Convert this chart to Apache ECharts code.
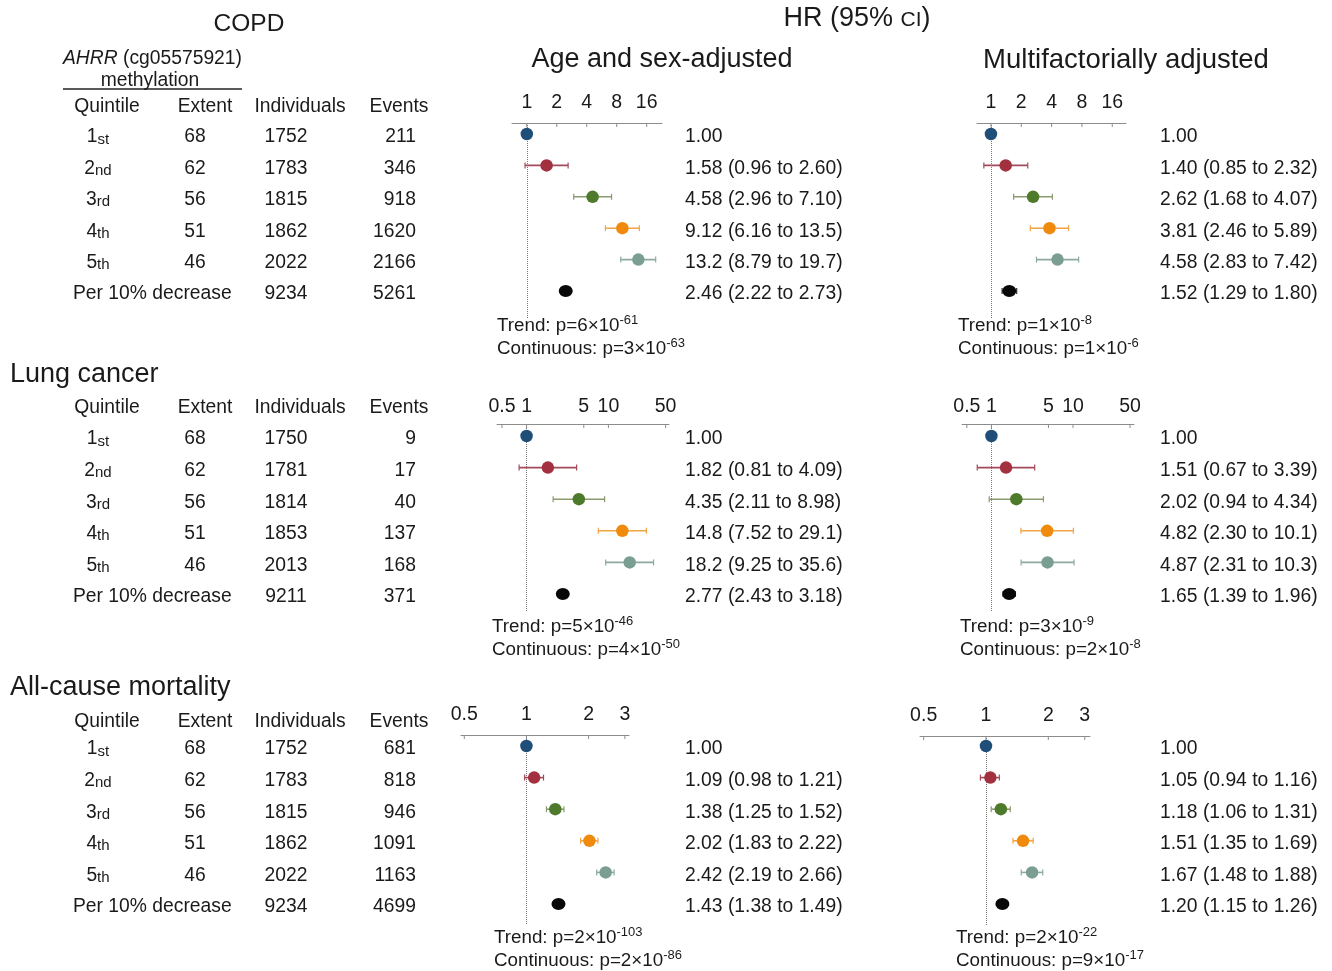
<!DOCTYPE html>
<html><head><meta charset="utf-8">
<script src="https://cdn.jsdelivr.net/npm/echarts@6/dist/echarts.min.js"></script>
<style>html,body{margin:0;padding:0;background:#fff;} #c{width:1332px;height:971px;}</style>
</head><body><div id="c"></div>
<script>
// ---------------- DATA ----------------
const quintiles = [['1','st'],['2','nd'],['3','rd'],['4','th'],['5','th']];
const trendRowLabel = 'Per 10% decrease';
const extentValues = [68, 62, 56, 51, 46];
const tableHeaders = ['Quintile', 'Extent', 'Individuals', 'Events'];

const copdIndividuals = [1752, 1783, 1815, 1862, 2022, 9234];
const copdEvents      = [211, 346, 918, 1620, 2166, 5261];
const lungIndividuals = [1750, 1781, 1814, 1853, 2013, 9211];
const lungEvents      = [9, 17, 40, 137, 168, 371];
const mortIndividuals = [1752, 1783, 1815, 1862, 2022, 9234];
const mortEvents      = [681, 818, 946, 1091, 1163, 4699];

const copdAgeHR   = [1.00, 1.58, 4.58, 9.12, 13.2, 2.46];
const copdAgeLo   = [null, 0.96, 2.96, 6.16, 8.79, 2.22];
const copdAgeHi   = [null, 2.60, 7.10, 13.5, 19.7, 2.73];
const copdMultiHR = [1.00, 1.40, 2.62, 3.81, 4.58, 1.52];
const copdMultiLo = [null, 0.85, 1.68, 2.46, 2.83, 1.29];
const copdMultiHi = [null, 2.32, 4.07, 5.89, 7.42, 1.80];

const lungAgeHR   = [1.00, 1.82, 4.35, 14.8, 18.2, 2.77];
const lungAgeLo   = [null, 0.81, 2.11, 7.52, 9.25, 2.43];
const lungAgeHi   = [null, 4.09, 8.98, 29.1, 35.6, 3.18];
const lungMultiHR = [1.00, 1.51, 2.02, 4.82, 4.87, 1.65];
const lungMultiLo = [null, 0.67, 0.94, 2.30, 2.31, 1.39];
const lungMultiHi = [null, 3.39, 4.34, 10.1, 10.3, 1.96];

const mortAgeHR   = [1.00, 1.09, 1.38, 2.02, 2.42, 1.43];
const mortAgeLo   = [null, 0.98, 1.25, 1.83, 2.19, 1.38];
const mortAgeHi   = [null, 1.21, 1.52, 2.22, 2.66, 1.49];
const mortMultiHR = [1.00, 1.05, 1.18, 1.51, 1.67, 1.20];
const mortMultiLo = [null, 0.94, 1.06, 1.35, 1.48, 1.15];
const mortMultiHi = [null, 1.16, 1.31, 1.69, 1.88, 1.26];

const copdTicks = [1, 2, 4, 8, 16];
const lungTicks = [0.5, 1, 5, 10, 50];
const mortTicks = [0.5, 1, 2, 3];

const copdAgeP   = { trend: ['6', '-61'],  cont: ['3', '-63'] };
const copdMultiP = { trend: ['1', '-8'],   cont: ['1', '-6'] };
const lungAgeP   = { trend: ['5', '-46'],  cont: ['4', '-50'] };
const lungMultiP = { trend: ['3', '-9'],   cont: ['2', '-8'] };
const mortAgeP   = { trend: ['2', '-103'], cont: ['2', '-86'] };
const mortMultiP = { trend: ['2', '-22'],  cont: ['9', '-17'] };

// ---------------- STYLE / LAYOUT ----------------
const F = "'Liberation Sans', Arial, Helvetica, sans-serif";
const TXT = '#1a1a1a';
const DY = 2; // text baseline nudge
const pointColors = ['#1F4E79', '#A3303F', '#4E7A2B', '#F08A0C', '#7A9E91', '#080808'];
const barColors   = ['#1F4E79', '#A24A5A', '#8A9B6E', '#F2A446', '#8DA9A2', '#333333'];

const panels = [
  { hr: copdAgeHR, lo: copdAgeLo, hi: copdAgeHi, ticks: copdTicks, p: copdAgeP,
    grid: {left: 512, top: 123, width: 150, height: 195}, xmin: 0.71, xmax: 22.8,
    rowY0: 134, step: 31.4, labelX: 685, pX: 497, pY: 324, tickOff: 22 },
  { hr: copdMultiHR, lo: copdMultiLo, hi: copdMultiHi, ticks: copdTicks, p: copdMultiP,
    grid: {left: 977, top: 123, width: 149, height: 195}, xmin: 0.727, xmax: 21.9,
    rowY0: 134, step: 31.4, labelX: 1160, pX: 958, pY: 324, tickOff: 22 },
  { hr: lungAgeHR, lo: lungAgeLo, hi: lungAgeHi, ticks: lungTicks, p: lungAgeP,
    grid: {left: 497, top: 424, width: 172, height: 188}, xmin: 0.435, xmax: 55,
    rowY0: 436, step: 31.6, labelX: 685, pX: 492, pY: 625, tickOff: 19 },
  { hr: lungMultiHR, lo: lungMultiLo, hi: lungMultiHi, ticks: lungTicks, p: lungMultiP,
    grid: {left: 962, top: 424, width: 172, height: 188}, xmin: 0.436, xmax: 55.9,
    rowY0: 436, step: 31.6, labelX: 1160, pX: 960, pY: 625, tickOff: 19 },
  { hr: mortAgeHR, lo: mortAgeLo, hi: mortAgeHi, ticks: mortTicks, p: mortAgeP,
    grid: {left: 461, top: 735, width: 168, height: 190}, xmin: 0.482, xmax: 3.14,
    rowY0: 746, step: 31.6, labelX: 685, pX: 494, pY: 936, tickOff: 22 },
  { hr: mortMultiHR, lo: mortMultiLo, hi: mortMultiHi, ticks: mortTicks, p: mortMultiP,
    grid: {left: 920, top: 736, width: 170, height: 189}, xmin: 0.48, xmax: 3.18,
    rowY0: 746, step: 31.6, labelX: 1160, pX: 956, pY: 936, tickOff: 22 }
];

const sections = [
  { title: null, headerY: 105, rowY0: 135, step: 31.4, indiv: copdIndividuals, events: copdEvents },
  { title: 'Lung cancer', titleY: 373, headerY: 406, rowY0: 437, step: 31.6, indiv: lungIndividuals, events: lungEvents },
  { title: 'All-cause mortality', titleY: 686, headerY: 720, rowY0: 747, step: 31.6, indiv: mortIndividuals, events: mortEvents }
];

function fmtNum(v) { return v < 1 ? v.toFixed(2) : v.toPrecision(3); }
function hrLabel(hr, lo, hi) { return lo == null ? fmtNum(hr) : fmtNum(hr) + ' (' + fmtNum(lo) + ' to ' + fmtNum(hi) + ')'; }

function txt(x, y, text, opts) {
  opts = opts || {};
  return { type: 'text', x: x, y: y + DY, silent: true, z: 10,
    style: Object.assign({ text: text, fontSize: 19.3, fontFamily: F, fill: TXT,
      align: opts.align || 'left', verticalAlign: 'middle' }, opts.style || {}) };
}
function supText(x, y, base, mant, exp) {
  return { type: 'text', x: x, y: y + DY, silent: true, z: 10,
    style: { text: '{n|' + base + mant + '×10}{s|' + exp + '}', align: 'left', verticalAlign: 'middle',
      rich: { n: { fontSize: 18.8, fontFamily: F, fill: TXT, lineHeight: 24 },
              s: { fontSize: 13, fontFamily: F, fill: TXT, lineHeight: 12, verticalAlign: 'top' } } } };
}

// ---------------- BUILD ----------------
const grids = [], xAxes = [], yAxes = [], series = [], graphics = [];

panels.forEach((pn, gi) => {
  const yMin = (pn.grid.top - pn.rowY0) / pn.step;
  const yMax = (pn.grid.top + pn.grid.height - pn.rowY0) / pn.step;
  grids.push(Object.assign({ containLabel: false, outerBoundsMode: 'none' }, pn.grid));
  xAxes.push({ gridIndex: gi, type: 'log', logBase: 10, min: pn.xmin, max: pn.xmax, position: 'top',
    axisLine: { show: true, onZero: false, lineStyle: { color: '#8c8c8c', width: 1 } },
    axisTick: { show: false }, axisLabel: { show: false }, splitLine: { show: false } });
  yAxes.push({ gridIndex: gi, type: 'value', inverse: true, min: yMin, max: yMax, show: false,
    splitLine: { show: false } });

  // tick marks + labels
  series.push({ type: 'custom', xAxisIndex: gi, yAxisIndex: gi, clip: false, silent: true, z: 2,
    data: pn.ticks.map(v => [v, yMin]),
    encode: { x: 0, y: 1 },
    renderItem: (params, api) => {
      const v = api.value(0);
      const p = api.coord([v, api.value(1)]);
      return { type: 'group', children: [
        { type: 'line', shape: { x1: p[0], y1: p[1], x2: p[0], y2: p[1] + 4 }, style: { stroke: '#8c8c8c', lineWidth: 1 } },
        { type: 'text', x: p[0], y: p[1] - pn.tickOff + DY,
          style: { text: String(v), align: 'center', verticalAlign: 'middle', fontSize: 19.5, fontFamily: F, fill: TXT } }
      ] };
    }
  });

  // error bars
  const barData = [];
  pn.hr.forEach((h, i) => { if (pn.lo[i] != null) barData.push([pn.lo[i], pn.hi[i], i, i]); });
  series.push({ type: 'custom', xAxisIndex: gi, yAxisIndex: gi, clip: false, silent: true, z: 3,
    data: barData, encode: { x: [0, 1], y: 2 },
    renderItem: (params, api) => {
      const r = api.value(2), ci = api.value(3);
      const a = api.coord([api.value(0), r]), b = api.coord([api.value(1), r]);
      const c = barColors[ci];
      return { type: 'group', children: [
        { type: 'line', shape: { x1: a[0], y1: a[1], x2: b[0], y2: b[1] }, style: { stroke: c, lineWidth: 1.6 } },
        { type: 'line', shape: { x1: a[0], y1: a[1] - 3, x2: a[0], y2: a[1] + 3 }, style: { stroke: c, lineWidth: 1.2 } },
        { type: 'line', shape: { x1: b[0], y1: b[1] - 3, x2: b[0], y2: b[1] + 3 }, style: { stroke: c, lineWidth: 1.2 } }
      ] };
    }
  });

  // points + reference line
  series.push({ type: 'scatter', xAxisIndex: gi, yAxisIndex: gi, z: 5, silent: true,
    data: pn.hr.map((h, i) => ({ value: [h, i], itemStyle: { color: pointColors[i], opacity: 1 },
      symbolSize: i === 5 ? [14, 12] : 12.5 })),
    markLine: { silent: true, symbol: ['none', 'none'], animation: false, z: 1,
      label: { show: false },
      lineStyle: { type: 'dotted', color: '#777', width: 1 },
      data: [{ xAxis: 1 }] }
  });

  // HR labels
  pn.hr.forEach((h, i) => {
    graphics.push(txt(pn.labelX, pn.rowY0 + 1 + i * pn.step, hrLabel(h, pn.lo[i], pn.hi[i])));
  });
  // p-values
  graphics.push(supText(pn.pX, pn.pY, 'Trend: p=', pn.p.trend[0], pn.p.trend[1]));
  graphics.push(supText(pn.pX, pn.pY + 23, 'Continuous: p=', pn.p.cont[0], pn.p.cont[1]));
});

// headings
graphics.push(txt(249, 22, 'COPD', { align: 'center', style: { fontSize: 24.5 } }));
graphics.push({ type: 'text', x: 857, y: 17 + DY, silent: true,
  style: { text: '{a|HR (95% }{b|CI}{a|)}', align: 'center', verticalAlign: 'middle',
    rich: { a: { fontSize: 27, fontFamily: F, fill: TXT, lineHeight: 28 },
            b: { fontSize: 21, fontFamily: F, fill: TXT, lineHeight: 20, verticalAlign: 'bottom', padding: [0, 0, 2, 0] } } } });
graphics.push(txt(662, 58, 'Age and sex-adjusted', { align: 'center', style: { fontSize: 27 } }));
graphics.push(txt(1126, 58, 'Multifactorially adjusted', { align: 'center', style: { fontSize: 27.5 } }));
graphics.push({ type: 'text', x: 63, y: 57 + DY, silent: true,
  style: { text: '{i|AHRR}{n| (cg05575921)}', align: 'left', verticalAlign: 'middle',
    rich: { i: { fontSize: 19.3, fontFamily: F, fontStyle: 'italic', fill: TXT },
            n: { fontSize: 19.3, fontFamily: F, fill: TXT } } } });
graphics.push(txt(150, 79, 'methylation', { align: 'center' }));
graphics.push({ type: 'line', silent: true, shape: { x1: 63, y1: 89, x2: 242, y2: 89 }, style: { stroke: '#222', lineWidth: 1.3 } });

// tables
sections.forEach(sec => {
  if (sec.title) graphics.push(txt(10, sec.titleY, sec.title, { style: { fontSize: 27 } }));
  const hx = [107, 205, 300, 399];
  tableHeaders.forEach((h, k) => graphics.push(txt(hx[k], sec.headerY, h, { align: 'center' })));
  quintiles.forEach((q, i) => {
    const y = sec.rowY0 + i * sec.step;
    graphics.push({ type: 'text', x: 98, y: y + DY, silent: true,
      style: { text: '{n|' + q[0] + '}{s|' + q[1] + '}', align: 'center', verticalAlign: 'middle',
        rich: { n: { fontSize: 19.3, fontFamily: F, fill: TXT, lineHeight: 20 },
                s: { fontSize: 15, fontFamily: F, fill: TXT, lineHeight: 19, verticalAlign: 'bottom' } } } });
    graphics.push(txt(195, y, String(extentValues[i]), { align: 'center' }));
  });
  graphics.push(txt(73, sec.rowY0 + 5 * sec.step, trendRowLabel));
  sec.indiv.forEach((v, i) => graphics.push(txt(286, sec.rowY0 + i * sec.step, String(v), { align: 'center' })));
  sec.events.forEach((v, i) => graphics.push(txt(416, sec.rowY0 + i * sec.step, String(v), { align: 'right' })));
});

const chart = echarts.init(document.getElementById('c'), null, { renderer: 'canvas' });
chart.setOption({
  backgroundColor: '#ffffff',
  animation: false,
  grid: grids, xAxis: xAxes, yAxis: yAxes, series: series,
  graphic: { elements: graphics }
});
</script></body></html>
